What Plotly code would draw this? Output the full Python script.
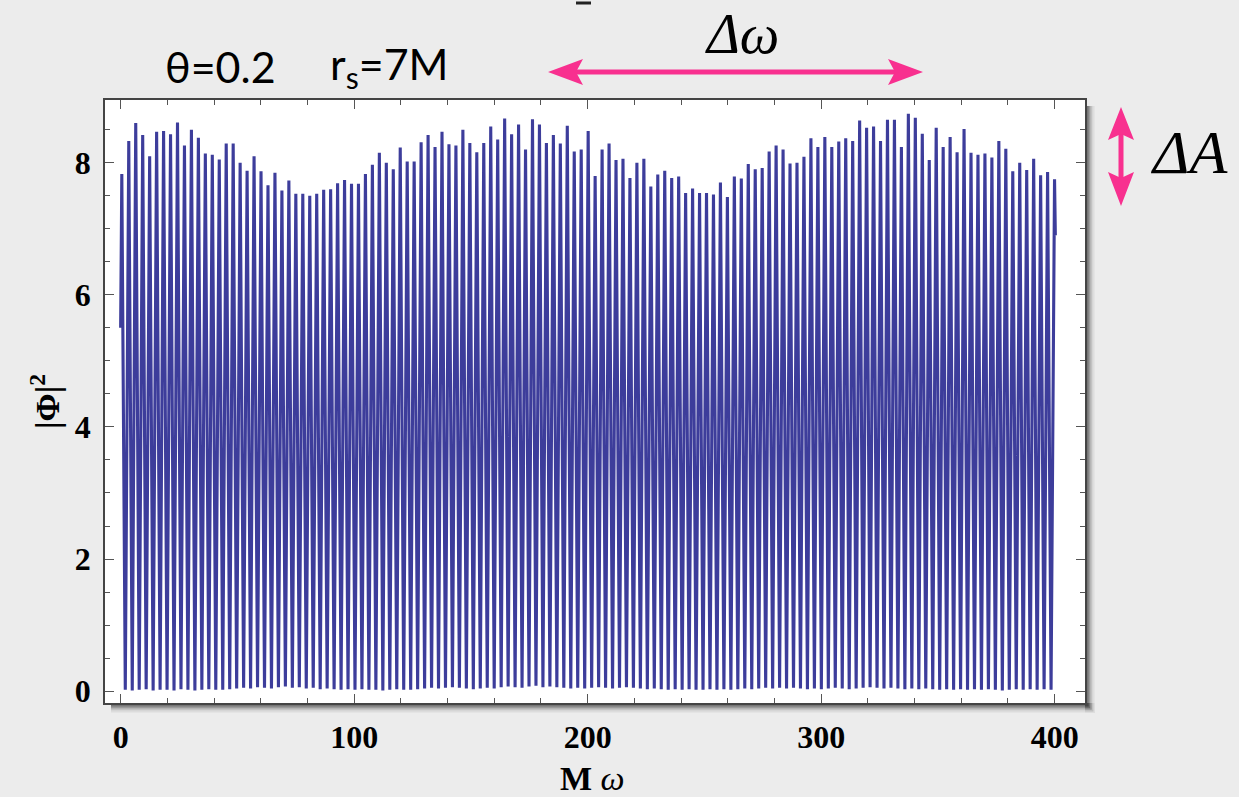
import plotly.graph_objects as go

# ---- data ----
peak_values = [
    7.83, 8.33, 8.60, 8.42, 8.10, 8.47, 8.48, 8.43, 8.61, 8.26, 8.50, 8.38, 8.14, 8.12, 8.05, 8.29, 8.29,
    8.00, 7.88, 8.10, 7.87, 7.66, 7.85, 7.58, 7.73, 7.53, 7.53, 7.50, 7.53, 7.59, 7.60, 7.69, 7.74,
    7.68, 7.68, 7.83, 7.97, 8.15, 8.00, 7.90, 8.23, 8.02, 8.02, 8.31, 8.42, 8.24, 8.47, 8.28, 8.26, 8.50,
    8.30, 8.16, 8.30, 8.55, 8.35, 8.67, 8.43, 8.58, 8.20, 8.66, 8.58, 8.30, 8.42, 8.29, 8.56, 8.17, 8.20, 8.48,
    7.80, 8.20, 8.29, 8.04, 8.06, 7.77, 8.00, 8.06, 7.64, 7.82, 7.88, 7.77, 7.79, 7.54, 7.61, 7.54, 7.54,
    7.52, 7.70, 7.48, 7.79, 7.76, 7.98, 7.90, 7.92, 8.17, 8.26, 8.20, 7.99, 8.00, 8.09, 8.37, 8.24, 8.39,
    8.24, 8.32, 8.37, 8.33, 8.64, 8.53, 8.55, 8.33, 8.65, 8.65, 8.24, 8.74, 8.68, 8.44, 8.04, 8.53, 8.24,
    8.39, 8.16, 8.51, 8.15, 8.12, 8.14, 8.08, 8.33, 8.21, 7.87, 8.00, 7.89, 8.06, 7.81, 7.86, 7.75,
]
trough_values = [
    0.02, 0.01, 0.02, 0.03, 0.01, 0.02, 0.02, 0.01, 0.03, 0.02, 0.01, 0.02, 0.03, 0.02, 0.02, 0.03, 0.04,
    0.05, 0.04, 0.06, 0.05, 0.04, 0.06, 0.07, 0.05, 0.06, 0.04, 0.05, 0.03, 0.04, 0.03, 0.02, 0.03,
    0.02, 0.03, 0.02, 0.02, 0.01, 0.02, 0.03, 0.02, 0.02, 0.03, 0.04, 0.05, 0.04, 0.05, 0.06, 0.05, 0.04,
    0.03, 0.04, 0.05, 0.04, 0.06, 0.07, 0.06, 0.05, 0.07, 0.08, 0.06, 0.07, 0.06, 0.05, 0.04, 0.05, 0.04,
    0.05, 0.06, 0.05, 0.04, 0.05, 0.06, 0.05, 0.04, 0.03, 0.04, 0.03, 0.02, 0.03, 0.02, 0.03, 0.02, 0.02,
    0.03, 0.02, 0.03, 0.02, 0.03, 0.04, 0.03, 0.04, 0.05, 0.04, 0.05, 0.04, 0.05, 0.04, 0.03, 0.04, 0.03,
    0.04, 0.05, 0.04, 0.03, 0.04, 0.05, 0.06, 0.05, 0.04, 0.05, 0.04, 0.03, 0.04, 0.03, 0.04, 0.03, 0.02,
    0.03, 0.02, 0.03, 0.02, 0.03, 0.02, 0.03, 0.02, 0.01, 0.02, 0.03, 0.02, 0.03, 0.02, 0.03, 0.02,
]
w_first_peak = 0.5
w_period = 2.981
w_start, phi_start = 0.0, 5.5
w_end, phi_end = 400.3, 6.9

x_ticks = [0, 100, 200, 300, 400]
y_ticks = [0, 2, 4, 6, 8]

# build the poly-line through peaks and troughs
xs = [w_start]
ys = [phi_start]
for i, p in enumerate(peak_values):
    xp = w_first_peak + i * w_period
    xs.append(xp)
    ys.append(p)
    if i < len(trough_values) and i < len(peak_values) - 1:
        xs.append(xp + w_period / 2)
        ys.append(trough_values[i])
xs.append(w_end)
ys.append(phi_end)

W, H = 1239, 797
L, R, T, B = 105, 1085, 100, 703  # plot area in pixels


def px(x):
    return (x - L) / (R - L)


def py(y):
    return (B - y) / (B - T)


fig = go.Figure()
fig.add_trace(go.Scatter(x=xs, y=ys, mode="lines",
                         line=dict(color="#3d3d9b", width=3.1),
                         hoverinfo="skip", showlegend=False))

tickfont = dict(family="Liberation Serif", size=32, color="black", weight="bold")
axis_common = dict(showline=True, linecolor="#444", linewidth=1.5, mirror="ticks",
                   ticks="inside", ticklen=9, tickwidth=1.2, tickcolor="#555",
                   showgrid=False, zeroline=False, tickfont=tickfont)

fig.update_xaxes(range=[-6.7, 413], tickvals=x_ticks,
                 minor=dict(dtick=20, ticks="inside", ticklen=5, tickcolor="#555", tickwidth=1),
                 ticklabelstandoff=5, **axis_common)
fig.update_yaxes(range=[-0.18, 8.95], tickvals=y_ticks,
                 minor=dict(dtick=0.5, ticks="inside", ticklen=5, tickcolor="#555", tickwidth=1),
                 ticklabelstandoff=6, **axis_common)

shapes = []
# drop shadow of the white panel (outside the plot area only)
for k, op in enumerate([0.45, 0.32, 0.22, 0.14, 0.08, 0.04]):
    d = k * 1.6
    shapes.append(dict(type="rect", xref="paper", yref="paper", layer="below",
                       x0=px(L + 6), x1=px(R + 2 + d), y0=py(B + 2 + d), y1=py(B),
                       line=dict(width=0), fillcolor=f"rgba(40,40,40,{op})"))
    shapes.append(dict(type="rect", xref="paper", yref="paper", layer="below",
                       x0=px(R), x1=px(R + 2 + d), y0=py(B + 2 + d), y1=py(T + 6),
                       line=dict(width=0), fillcolor=f"rgba(40,40,40,{op})"))

pink = "#f8308f"
# horizontal double arrow
hy = 72
shapes.append(dict(type="line", xref="paper", yref="paper", x0=px(570), x1=px(900), y0=py(hy), y1=py(hy),
                   line=dict(color=pink, width=5)))
shapes.append(dict(type="path", xref="paper", yref="paper", fillcolor=pink, line=dict(width=0),
                   path=f"M {px(548)} {py(hy)} L {px(583)} {py(hy-13)} L {px(576)} {py(hy)} L {px(583)} {py(hy+13)} Z"))
shapes.append(dict(type="path", xref="paper", yref="paper", fillcolor=pink, line=dict(width=0),
                   path=f"M {px(923)} {py(hy)} L {px(888)} {py(hy-13)} L {px(895)} {py(hy)} L {px(888)} {py(hy+13)} Z"))
# vertical double arrow
vx = 1121
shapes.append(dict(type="line", xref="paper", yref="paper", x0=px(vx), x1=px(vx), y0=py(125), y1=py(190),
                   line=dict(color=pink, width=5)))
shapes.append(dict(type="path", xref="paper", yref="paper", fillcolor=pink, line=dict(width=0),
                   path=f"M {px(vx)} {py(107)} L {px(vx-13)} {py(140)} L {px(vx)} {py(134)} L {px(vx+13)} {py(140)} Z"))
shapes.append(dict(type="path", xref="paper", yref="paper", fillcolor=pink, line=dict(width=0),
                   path=f"M {px(vx)} {py(206)} L {px(vx-13)} {py(172)} L {px(vx)} {py(178)} L {px(vx+13)} {py(172)} Z"))
# small mark at the very top (cropped title remnant)
shapes.append(dict(type="line", xref="paper", yref="paper", x0=px(576), x1=px(591), y0=py(3), y1=py(3),
                   line=dict(color="#222", width=3)))

annotations = [
    dict(text="θ=0.2", x=px(163), y=py(67), xanchor="left", yanchor="middle",
         font=dict(family="Lato", size=43, color="black")),
    dict(text="r<sub>s</sub>=7M", x=px(328), y=py(67), xanchor="left", yanchor="middle",
         font=dict(family="Lato", size=43, color="black")),
    dict(text="<i>Δω</i>", x=px(742), y=py(34), xanchor="center", yanchor="middle",
         font=dict(family="Liberation Serif", size=56, color="black")),
    dict(text="<i>ΔA</i>", x=px(1189), y=py(152), xanchor="center", yanchor="middle",
         font=dict(family="Liberation Serif", size=62, color="black")),
    dict(text="<b>|Φ|</b><sup><b>2</b></sup>", x=px(45), y=py(402), xanchor="center", yanchor="middle",
         textangle=-90, font=dict(family="Liberation Serif", size=34, color="black")),
    dict(text="<b>M</b> <i>ω</i>", x=px(592), y=py(778), xanchor="center", yanchor="middle",
         font=dict(family="Liberation Serif", size=34, color="black")),
]
for a in annotations:
    a.update(xref="paper", yref="paper", showarrow=False)

fig.update_layout(width=W, height=H, margin=dict(l=L, r=W - R, t=T, b=H - B),
                  paper_bgcolor="#ececec", plot_bgcolor="white",
                  shapes=shapes, annotations=annotations, showlegend=False)

fig.write_html("out.html")
